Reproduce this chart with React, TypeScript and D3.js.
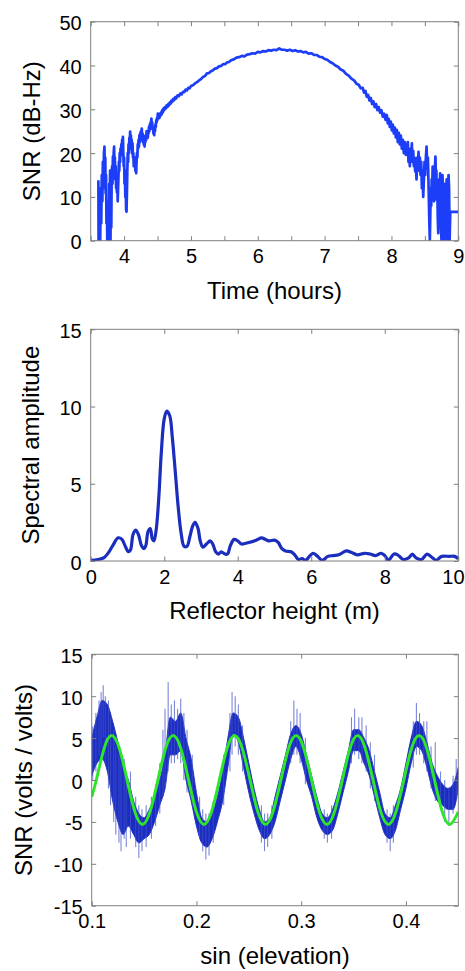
import { useEffect, useRef } from 'react';
import * as d3 from 'd3';

// ---- panel 1: SNR vs time ----
const snrTicks = [0, 10, 20, 30, 40, 50];
const timeTicks = [3.5, 4, 4.5, 5, 5.5, 6, 6.5, 7, 7.5, 8, 8.5, 9];
const snrTrace: [number, number][] = [
  [3.615, 13.8], [3.618, 0], [3.624, 11], [3.630, 0], [3.636, 6], [3.642, 0], [3.650, 12], [3.658, 4],
  [3.666, 15], [3.674, 9], [3.682, 18], [3.690, 12], [3.698, 20], [3.706, 21.5], [3.712, 16], [3.718, 19],
  [3.724, 10.8], [3.730, 15], [3.736, 4], [3.742, 9], [3.748, 0], [3.754, 5], [3.760, 0], [3.766, 8],
  [3.772, 2.8], [3.778, 13], [3.784, 6], [3.790, 16], [3.796, 0], [3.802, 12], [3.808, 3], [3.814, 15],
  [3.820, 17], [3.826, 13], [3.832, 19.2], [3.838, 16], [3.844, 20], [3.850, 21.5], [3.856, 17], [3.862, 19],
  [3.868, 14], [3.874, 17], [3.880, 12], [3.886, 15], [3.892, 11], [3.898, 13], [3.904, 9], [3.910, 12],
  [3.916, 15], [3.922, 18], [3.928, 16], [3.934, 20], [3.940, 18], [3.946, 21], [3.952, 19.5], [3.958, 22],
  [3.964, 20], [3.970, 23], [3.976, 21], [3.982, 23.7], [3.988, 20], [3.994, 17], [4.000, 19], [4.006, 13],
  [4.012, 16], [4.018, 10], [4.024, 12], [4.030, 7], [4.036, 6.6], [4.042, 11], [4.048, 16], [4.054, 20],
  [4.060, 18], [4.066, 22], [4.072, 20], [4.078, 23.5], [4.084, 22], [4.090, 24.9], [4.096, 22], [4.102, 24],
  [4.108, 21], [4.114, 23], [4.120, 20], [4.126, 22.2], [4.132, 19], [4.138, 20], [4.144, 17], [4.150, 19],
  [4.156, 17], [4.162, 19], [4.168, 16], [4.174, 17.5], [4.180, 15.4], [4.186, 18], [4.192, 20], [4.198, 19],
  [4.204, 22], [4.210, 21], [4.216, 23], [4.222, 21.5], [4.228, 24], [4.234, 22.5], [4.240, 24.5], [4.246, 23],
  [4.252, 25], [4.258, 24], [4.264, 25.6], [4.270, 23.5], [4.276, 24.5], [4.282, 22.5], [4.288, 24], [4.294, 22],
  [4.300, 23], [4.306, 21.5], [4.312, 23.5], [4.318, 22.5], [4.324, 24], [4.330, 23], [4.336, 25], [4.342, 23.5],
  [4.348, 24.5], [4.354, 23.5], [4.360, 25], [4.366, 24.5], [4.372, 26], [4.378, 25], [4.384, 26.5], [4.390, 25.5],
  [4.396, 27], [4.402, 26.5], [4.408, 27.9], [4.414, 26.5], [4.420, 27], [4.426, 25.5], [4.432, 26], [4.438, 24.5],
  [4.444, 25], [4.450, 24.1], [4.456, 25.5], [4.462, 25], [4.468, 26.5], [4.474, 26], [4.480, 27.5], [4.486, 27],
  [4.492, 28], [4.498, 27.5], [4.504, 29], [4.512, 28], [4.520, 28.5], [4.528, 28], [4.536, 29], [4.544, 28.5],
  [4.552, 29.3], [4.560, 28.8], [4.570, 29.8], [4.580, 29.3], [4.590, 30.2], [4.600, 29.8], [4.612, 30.5], [4.624, 30.2],
  [4.636, 30.9], [4.648, 30.5], [4.660, 31.2], [4.672, 30.9], [4.684, 31.6], [4.696, 31.3], [4.708, 32], [4.720, 31.7],
  [4.735, 32.4], [4.750, 32.1], [4.765, 32.8], [4.780, 32.5], [4.800, 33.2], [4.820, 33], [4.840, 33.6], [4.860, 33.4],
  [4.880, 34], [4.900, 33.9], [4.920, 34.5], [4.940, 34.3], [4.960, 34.9], [4.980, 34.8], [5.000, 35.3], [5.030, 35.5],
  [5.060, 35.9], [5.090, 36.2], [5.120, 36.6], [5.150, 36.9], [5.180, 37.4], [5.210, 37.6], [5.240, 38.2], [5.270, 38.3],
  [5.300, 38.7], [5.330, 38.9], [5.360, 39.3], [5.390, 39.4], [5.420, 39.8], [5.450, 39.9], [5.480, 40.3], [5.510, 40.3],
  [5.540, 40.7], [5.570, 40.8], [5.600, 41.2], [5.640, 41.4], [5.680, 41.8], [5.720, 41.9], [5.760, 42.2], [5.800, 42.1],
  [5.840, 42.5], [5.880, 42.6], [5.920, 42.8], [5.960, 42.7], [6.000, 43.1], [6.040, 43.0], [6.080, 43.3], [6.120, 43.2],
  [6.160, 43.5], [6.200, 43.4], [6.240, 43.6], [6.280, 43.5], [6.320, 43.9], [6.360, 43.6], [6.400, 43.6], [6.440, 43.4],
  [6.480, 43.6], [6.520, 43.3], [6.560, 43.5], [6.600, 43.2], [6.640, 43.3], [6.680, 43.0], [6.720, 43.1], [6.760, 42.7],
  [6.800, 42.8], [6.840, 42.4], [6.880, 42.4], [6.920, 42.0], [6.960, 41.9], [7.000, 41.5], [7.040, 41.3], [7.080, 40.8],
  [7.120, 40.5], [7.160, 40.0], [7.200, 39.7], [7.240, 39.1], [7.280, 38.8], [7.320, 38.1], [7.360, 37.7], [7.400, 37.0],
  [7.440, 36.6], [7.480, 35.8], [7.510, 35.6], [7.540, 34.8], [7.570, 34.9], [7.590, 33.8], [7.610, 34.2], [7.630, 32.9],
  [7.650, 33.3], [7.670, 32.0], [7.690, 32.6], [7.710, 31.2], [7.730, 31.8], [7.750, 30.5], [7.770, 31.2], [7.790, 29.8],
  [7.810, 30.5], [7.830, 29.2], [7.850, 29.8], [7.870, 28.3], [7.890, 29.0], [7.910, 27.6], [7.930, 28.7], [7.945, 26.8],
  [7.960, 27.8], [7.975, 26.0], [7.990, 27.2], [8.005, 25.2], [8.020, 26.5], [8.035, 24.5], [8.050, 25.8], [8.065, 23.6],
  [8.080, 25.3], [8.095, 22.5], [8.110, 24.6], [8.125, 22.0], [8.140, 24.0], [8.155, 21.0], [8.170, 23.0], [8.185, 20.0],
  [8.200, 22.5], [8.215, 19.6], [8.225, 21.5], [8.235, 20.5], [8.245, 22.5], [8.255, 18], [8.265, 20], [8.275, 17],
  [8.285, 21], [8.295, 19], [8.305, 22.2], [8.315, 18], [8.325, 20.5], [8.335, 17], [8.345, 19], [8.355, 15.8],
  [8.365, 18], [8.375, 14], [8.385, 19], [8.395, 17], [8.405, 20.3], [8.415, 16], [8.425, 19], [8.435, 15],
  [8.445, 18], [8.455, 12], [8.465, 16], [8.475, 10], [8.485, 14], [8.495, 18], [8.505, 15], [8.515, 19],
  [8.525, 21.5], [8.535, 17], [8.545, 19], [8.553, 14], [8.560, 9], [8.567, 4], [8.574, 0], [8.581, 6],
  [8.588, 12], [8.595, 8], [8.602, 14], [8.609, 11], [8.616, 16.9], [8.623, 12], [8.630, 15], [8.637, 9],
  [8.644, 13], [8.651, 17], [8.658, 19.2], [8.665, 14], [8.672, 16], [8.679, 9.3], [8.686, 12], [8.693, 5],
  [8.700, 1.7], [8.707, 8], [8.714, 14], [8.721, 10], [8.728, 15.4], [8.735, 11], [8.742, 3], [8.749, 0],
  [8.756, 9], [8.763, 15], [8.770, 12], [8.777, 5], [8.784, 0], [8.791, 10], [8.798, 13], [8.805, 6],
  [8.812, 0], [8.819, 11], [8.826, 14], [8.833, 8], [8.840, 0], [8.847, 10], [8.854, 15], [8.862, 12],
  [8.870, 0], [8.880, 6.6], [9.0, 6.6],
];

// ---- panel 2: spectrum vs reflector height ----
const ampTicks = [0, 5, 10, 15];
const heightTicks = [0, 2, 4, 6, 8, 10];
const spectrumTrace: [number, number][] = [
  [0, 0.05], [0.2, 0.1], [0.35, 0.2], [0.5, 0.6], [0.6, 1.0], [0.75, 1.5], [0.85, 1.4], [0.95, 0.9],
  [1.02, 0.6], [1.08, 0.7], [1.15, 1.7], [1.22, 2.0], [1.3, 1.7], [1.38, 1.0], [1.45, 0.8], [1.5, 1.0],
  [1.56, 1.9], [1.62, 2.1], [1.68, 1.4], [1.72, 1.3], [1.78, 2.0], [1.85, 4.0], [1.92, 7.0], [2.0, 9.2],
  [2.07, 9.7], [2.15, 9.4], [2.22, 8.0], [2.3, 5.8], [2.38, 3.5], [2.46, 1.8], [2.54, 0.95], [2.62, 0.95],
  [2.7, 1.6], [2.78, 2.3], [2.84, 2.5], [2.92, 2.1], [2.98, 1.3], [3.05, 0.9], [3.15, 1.1], [3.25, 1.3],
  [3.32, 1.1], [3.4, 0.6], [3.48, 0.45], [3.55, 0.6], [3.65, 0.45], [3.72, 0.45], [3.8, 1.0], [3.9, 1.4],
  [4.0, 1.3], [4.1, 1.1], [4.3, 1.2], [4.5, 1.35], [4.65, 1.5], [4.75, 1.4], [4.85, 1.3], [5.0, 1.35],
  [5.1, 1.2], [5.2, 0.8], [5.3, 0.65], [5.45, 0.6], [5.55, 0.4], [5.65, 0.1], [5.75, 0.15], [5.85, 0.05],
  [5.95, 0.3], [6.05, 0.5], [6.15, 0.35], [6.3, 0.05], [6.45, 0.3], [6.6, 0.35], [6.75, 0.4], [6.95, 0.65],
  [7.1, 0.55], [7.25, 0.4], [7.45, 0.5], [7.6, 0.45], [7.75, 0.35], [7.9, 0.5], [8.0, 0.35], [8.1, 0.05],
  [8.25, 0.45], [8.35, 0.4], [8.5, 0.1], [8.65, 0.2], [8.75, 0.45], [8.85, 0.2], [9.0, 0.1], [9.15, 0.45],
  [9.3, 0.2], [9.4, 0.05], [9.55, 0.3], [9.75, 0.3], [9.9, 0.3], [10.0, 0.15],
];

// ---- panel 3: detrended SNR vs sin(elevation) ----
const voltTicks = [-15, -10, -5, 0, 5, 10, 15];
const sinTicks = [0.1, 0.2, 0.3, 0.4];
// [sin(elev), lower, upper] of the dense part of the noisy record
const detrendBand: [number, number, number][] = [
  [0.100, 0.5, 5], [0.105, 2, 7.5], [0.110, 2.5, 9.5], [0.115, 1, 9], [0.120, -2.5, 7], [0.125, -5, 4.5],
  [0.130, -6.5, 1.5], [0.135, -5.5, 0], [0.140, -6.5, -2.5], [0.145, -7.5, -4], [0.150, -7, -4.5], [0.155, -6.5, -3.5],
  [0.160, -5, -2], [0.165, -3, 0], [0.170, -1, 3], [0.175, 3, 7.5], [0.180, 3, 7], [0.185, 3.5, 8],
  [0.190, 0, 5], [0.195, -2.5, 2.5], [0.200, -5.5, -1.5], [0.205, -7.5, -4.5], [0.210, -8, -5], [0.215, -7, -4],
  [0.220, -5, -2], [0.225, -2.5, 1], [0.230, 1.5, 5], [0.235, 5.5, 8], [0.240, 4.5, 7.5], [0.245, 1.5, 5],
  [0.250, -1.5, 2], [0.255, -4, -1], [0.260, -6, -3.5], [0.265, -7, -5], [0.270, -6.5, -4.5], [0.275, -5, -2],
  [0.280, -2.5, 0.5], [0.285, 0, 3], [0.290, 2.5, 5.5], [0.295, 4, 6.5], [0.300, 2.5, 5.5], [0.305, 0, 3],
  [0.310, -2, 0.5], [0.315, -4.5, -2], [0.320, -6, -4], [0.325, -6.5, -4.5], [0.330, -6, -3.5], [0.335, -4, -1.5],
  [0.340, -1.5, 1], [0.345, 1, 3.5], [0.350, 3.5, 6], [0.355, 3.5, 6], [0.360, 2, 5], [0.365, 0.5, 3.5],
  [0.370, -2, 1], [0.375, -4.5, -1.5], [0.380, -6.5, -4], [0.385, -7, -4.5], [0.390, -6, -3], [0.395, -3.5, -1],
  [0.400, -1, 2], [0.405, 2, 5], [0.410, 4, 7], [0.415, 3.5, 6.5], [0.420, 1.5, 4.5], [0.425, -1, 2],
  [0.430, -2.5, 0.5], [0.435, -3, -0.5], [0.440, -3.5, -1], [0.445, -3.5, -0.5], [0.450, -1, 1.5],
];
// [sin(elev), low, high] of the single noise spikes
const detrendSpikes: [number, number, number][] = [
  [0.101, 0, 6.4], [0.104, 1, 8], [0.107, 3, 9.5], [0.109, 4, 10.5], [0.111, 5, 11.3], [0.113, 2, 10],
  [0.116, -1, 9.5], [0.118, -3, 7.5], [0.121, -5, 6], [0.123, -6.5, 4], [0.126, -7.5, 3], [0.128, -8.5, 2],
  [0.131, -7, 2.5], [0.133, -8, 0.5], [0.137, -7, 1], [0.142, -8, -2], [0.145, -9.3, -3], [0.148, -8.5, -3.5],
  [0.152, -8, -3], [0.157, -7, -2], [0.161, -5.5, -0.5], [0.165, -4, 2], [0.168, -2, 6], [0.170, -1, 8.5],
  [0.173, 1, 11.7], [0.176, 2, 9], [0.179, 2, 9.5], [0.182, 2.5, 8.5], [0.185, 2, 9.7], [0.188, 0, 8],
  [0.191, -1.5, 6], [0.196, -3, 3], [0.203, -7, -2], [0.206, -8.5, -3.5], [0.209, -9.5, -4], [0.212, -9, -4],
  [0.216, -7.5, -2.5], [0.226, -3, 3], [0.232, 1, 8], [0.234, 3, 10.5], [0.237, 4, 10], [0.240, 3, 9],
  [0.244, 1, 6.5], [0.262, -7.5, -3], [0.265, -8.5, -4], [0.268, -8, -4], [0.272, -7, -3], [0.290, 2, 7],
  [0.293, 3, 9.5], [0.296, 3, 8.5], [0.299, 2, 8], [0.304, -0.5, 5], [0.322, -7, -3.5], [0.325, -7.5, -4],
  [0.329, -7, -3], [0.348, 2, 7.5], [0.351, 3, 8.5], [0.355, 2.5, 7.5], [0.358, 2, 7.5], [0.362, 1, 6.5],
  [0.366, -1, 4.5], [0.370, -2.5, 3], [0.382, -7.5, -3.5], [0.385, -8.5, -4], [0.388, -7.5, -3], [0.407, 1.5, 7],
  [0.410, 3, 9.2], [0.413, 3, 8], [0.417, 2, 7], [0.420, 1, 7], [0.424, -1, 4], [0.428, -2.5, 4.5],
  [0.433, -3.5, 1], [0.437, -5, 0], [0.441, -5.5, -1], [0.445, -4, 0.5], [0.448, -2, 2.5],
];
// fitted sinusoid (green)
const fitTrace: [number, number][] = [
  [0.100, -2.0], [0.1044, 0], [0.1118, 3.75], [0.1191, 5.3], [0.1264, 3.75], [0.1338, 0], [0.1411, -3.75],
  [0.1485, -5.3], [0.1558, -3.75], [0.1632, 0], [0.1705, 3.75], [0.1778, 5.3], [0.1851, 3.75], [0.1925, 0],
  [0.1998, -3.75], [0.2072, -5.3], [0.2145, -3.75], [0.2219, 0], [0.2292, 3.75], [0.2365, 5.3], [0.2438, 3.75],
  [0.2512, 0], [0.2585, -3.75], [0.2659, -5.3], [0.2732, -3.75], [0.2806, 0], [0.2879, 3.75], [0.2952, 5.3],
  [0.3025, 3.75], [0.3099, 0], [0.3172, -3.75], [0.3246, -5.3], [0.3319, -3.75], [0.3393, 0], [0.3466, 3.75],
  [0.3539, 5.3], [0.3612, 3.75], [0.3686, 0], [0.3759, -3.75], [0.3833, -5.3], [0.3906, -3.75], [0.3980, 0],
  [0.4053, 3.75], [0.4126, 5.3], [0.4199, 3.75], [0.4273, 0], [0.4346, -3.75], [0.4420, -5.3], [0.450, -3.8],
];

const FONT = '"Liberation Sans", Arial, sans-serif';
const FRAME = '#7f7f7f';
const PAGE_W = 465;

function makePanel(svg: any, o: any) {
  const x = d3.scaleLinear().domain(o.xDomain).range([o.left, o.right]);
  const y = d3.scaleLinear().domain(o.yDomain).range([o.bottom, o.top]);
  svg.append('clipPath').attr('id', o.id)
    .append('rect')
    .attr('x', o.left).attr('y', o.top)
    .attr('width', o.right - o.left).attr('height', o.bottom - o.top);
  const plot = svg.append('g').attr('clip-path', `url(#${o.id})`);
  return { x, y, plot };
}

function drawFrame(svg: any, x: any, y: any, o: any) {
  const styleAxis = (g: any) => {
    g.select('.domain').remove();
    g.selectAll('.tick line').attr('stroke', FRAME);
    g.selectAll('.tick text').attr('fill', '#000').attr('font-family', FONT).attr('font-size', 20);
  };
  const bottomAxis = svg.append('g').attr('transform', `translate(0,${o.bottom})`)
    .call(d3.axisBottom(x).tickValues(o.xTicks).tickSize(-4.5).tickPadding(8.5).tickFormat(o.xFormat))
    .call(styleAxis);
  // keep the right-most label inside the page
  bottomAxis.selectAll('.tick text').each(function (this: any) {
    const box = this.getBBox();
    const tx = x(d3.select(this.parentNode).datum());
    const overflow = tx + box.x + box.width - (PAGE_W - 1);
    if (overflow > 0) d3.select(this).attr('dx', -overflow);
  });
  svg.append('g').attr('transform', `translate(0,${o.top})`)
    .call(d3.axisTop(x).tickValues(o.xTicks).tickSize(-4.5).tickFormat(() => ''))
    .call(styleAxis);
  svg.append('g').attr('transform', `translate(${o.left},0)`)
    .call(d3.axisLeft(y).tickValues(o.yTicks).tickSize(-4.5).tickPadding(9).tickFormat((d: any) => String(d)))
    .call(styleAxis)
    .selectAll('.tick text').attr('dy', '0.4em');
  svg.append('g').attr('transform', `translate(${o.right},0)`)
    .call(d3.axisRight(y).tickValues(o.yTicks).tickSize(-4.5).tickFormat(() => ''))
    .call(styleAxis);
  svg.append('rect')
    .attr('x', o.left).attr('y', o.top)
    .attr('width', o.right - o.left).attr('height', o.bottom - o.top)
    .attr('fill', 'none').attr('stroke', FRAME).attr('stroke-width', 1);

  svg.append('text')
    .attr('x', (o.left + o.right) / 2).attr('y', o.bottom + 58)
    .attr('text-anchor', 'middle')
    .attr('font-family', FONT).attr('font-size', 24).attr('fill', '#000')
    .text(o.xTitle);
  svg.append('text')
    .attr('transform', `translate(${o.yTitleX},${(o.top + o.bottom) / 2}) rotate(-90)`)
    .attr('text-anchor', 'middle')
    .attr('font-family', FONT).attr('font-size', 24).attr('fill', '#000')
    .text(o.yTitle);
}

function App() {
  const svgRef = useRef<SVGSVGElement>(null);

  useEffect(() => {
    if (!svgRef.current) return;
    const svg = d3.select(svgRef.current);
    svg.selectAll('*').remove();

    // panel 1
    const p1 = {
      id: 'clip1', left: 90.7, right: 458.3, top: 21.7, bottom: 240.7,
      xDomain: [3.5, 9], yDomain: [0, 50], xTicks: timeTicks, yTicks: snrTicks,
      xFormat: (d: any) => (Number.isInteger(d) ? String(d) : ''),
      xTitle: 'Time (hours)', yTitle: 'SNR (dB-Hz)', yTitleX: 40,
    };
    const a = makePanel(svg, p1);
    a.plot.append('path')
      .attr('d', d3.line<[number, number]>().x(d => a.x(d[0])).y(d => a.y(d[1]))(snrTrace))
      .attr('fill', 'none').attr('stroke', '#1c3ef8').attr('stroke-width', 2.7)
      .attr('stroke-linejoin', 'round');
    drawFrame(svg, a.x, a.y, p1);

    // panel 2
    const p2 = {
      id: 'clip2', left: 90.7, right: 458.3, top: 329.3, bottom: 561,
      xDomain: [0, 10], yDomain: [0, 15], xTicks: heightTicks, yTicks: ampTicks,
      xFormat: (d: any) => String(d),
      xTitle: 'Reflector height (m)', yTitle: 'Spectral amplitude', yTitleX: 38.5,
    };
    const b = makePanel(svg, p2);
    b.plot.append('path')
      .attr('d', d3.line<[number, number]>().x(d => b.x(d[0])).y(d => b.y(d[1]))
        .curve(d3.curveCatmullRom)(spectrumTrace))
      .attr('fill', 'none').attr('stroke', '#1a2dbd').attr('stroke-width', 3.2)
      .attr('stroke-linejoin', 'round');
    drawFrame(svg, b.x, b.y, p2);

    // panel 3
    const p3 = {
      id: 'clip3', left: 91.7, right: 458.3, top: 654.3, bottom: 905.7,
      xDomain: [0.1, 0.45], yDomain: [-15, 15], xTicks: sinTicks, yTicks: voltTicks,
      xFormat: d3.format('.1f'),
      xTitle: 'sin (elevation)', yTitle: 'SNR (volts / volts)', yTitleX: 32,
    };
    const c = makePanel(svg, p3);
    c.plot.append('path')
      .attr('d', d3.area<[number, number, number]>()
        .x(d => c.x(d[0])).y0(d => c.y(d[1])).y1(d => c.y(d[2]))
        .curve(d3.curveMonotoneX)(detrendBand))
      .attr('fill', '#1b2cc2').attr('stroke', '#2535c4').attr('stroke-width', 1);
    c.plot.selectAll('line.spike')
      .data(detrendSpikes)
      .join('line')
      .attr('class', 'spike')
      .attr('x1', d => c.x(d[0])).attr('x2', d => c.x(d[0]))
      .attr('y1', d => c.y(d[1])).attr('y2', d => c.y(d[2]))
      .attr('stroke', '#4252c8').attr('stroke-opacity', 0.7).attr('stroke-width', 1.1);
    c.plot.append('path')
      .attr('d', d3.line<[number, number]>().x(d => c.x(d[0])).y(d => c.y(d[1]))
        .curve(d3.curveNatural)(fitTrace))
      .attr('fill', 'none').attr('stroke', '#2ee52a').attr('stroke-width', 3);
    drawFrame(svg, c.x, c.y, p3);
  }, []);

  return (
    <svg
      ref={svgRef}
      width={PAGE_W}
      height={971}
      style={{ position: 'absolute', left: 0, top: 0, background: '#fff' }}
    />
  );
}

export default App;
